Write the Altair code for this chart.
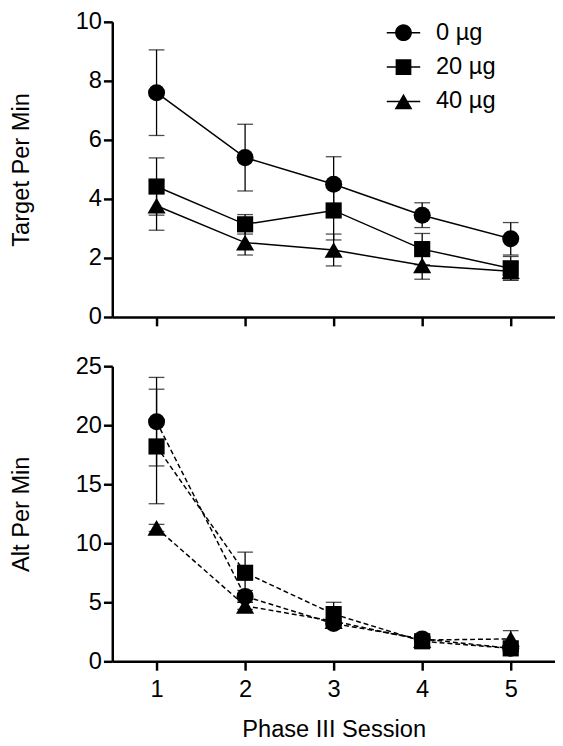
import altair as alt
import pandas as pd

sessions = [1, 2, 3, 4, 5]
doses = ["0 µg", "20 µg", "40 µg"]
shapes = ["circle", "square", "triangle-up"]
marker_sizes = [300, 270, 340]

# Target responses per minute (mean, SEM)
target_0 = [7.6, 5.4, 4.5, 3.45, 2.65]
target_0_sem = [1.45, 1.13, 0.93, 0.42, 0.55]
target_20 = [4.42, 3.14, 3.61, 2.3, 1.65]
target_20_sem = [0.97, 0.33, 1.0, 0.53, 0.4]
target_40 = [3.77, 2.52, 2.27, 1.75, 1.55]
target_40_sem = [0.83, 0.42, 0.54, 0.47, 0.3]

# Alternative responses per minute (mean, SEM)
alt_0 = [20.3, 5.5, 3.2, 1.9, 1.1]
alt_0_sem = [3.75, 0.5, 0.4, 0.2, 0.2]
alt_20 = [18.2, 7.5, 4.0, 1.7, 1.1]
alt_20_sem = [4.85, 1.75, 1.0, 0.2, 0.3]
alt_40 = [11.3, 4.7, 3.4, 1.8, 1.9]
alt_40_sem = [0.3, 0.3, 0.3, 0.2, 0.7]

target_ticks = [0, 2, 4, 6, 8, 10]
alt_ticks = [0, 5, 10, 15, 20, 25]

# legend glyphs: marker with a short line through it (all filled sub-paths)
BAR = "M-1,-0.045 L1,-0.045 L1,0.045 L-1,0.045 Z "
legend_paths = [
    BAR + "M0.5,0 A0.5,0.5 0 1,1 -0.5,0 A0.5,0.5 0 1,1 0.5,0 Z",
    BAR + "M-0.47,-0.47 L0.47,-0.47 L0.47,0.47 L-0.47,0.47 Z",
    BAR + "M0,-0.46 L0.53,0.46 L-0.53,0.46 Z",
]

FONT = "Liberation Sans"


def make_df(means, sems):
    rows = []
    for dose, m_list, s_list in zip(doses, means, sems):
        for s, m, e in zip(sessions, m_list, s_list):
            rows.append({"session": s, "dose": dose, "mean": m, "lo": m - e, "hi": m + e})
    return pd.DataFrame(rows)


df_target = make_df([target_0, target_20, target_40], [target_0_sem, target_20_sem, target_40_sem])
df_alt = make_df([alt_0, alt_20, alt_40], [alt_0_sem, alt_20_sem, alt_40_sem])


def panel(df, ymax, yticks, ytitle, dashed, bottom, legend):
    xaxis_kw = dict(values=sessions, format="d", labels=bottom)
    if bottom:
        xaxis_kw["title"] = "Phase III Session"
    else:
        xaxis_kw["title"] = None
    xscale = alt.Scale(domain=[0.5, 5.5], nice=False, zero=False)
    yscale = alt.Scale(domain=[0, ymax], nice=False)
    x = alt.X("session:Q", scale=xscale, axis=alt.Axis(**xaxis_kw))
    y = alt.Y("mean:Q", scale=yscale, axis=alt.Axis(values=yticks, title=ytitle))
    base = alt.Chart(df)

    line_kw = dict(color="black", strokeWidth=1.5)
    if dashed:
        line_kw["strokeDash"] = [5, 3]
    lines = base.mark_line(**line_kw).encode(x=x, y=y, detail="dose:N")
    err = base.mark_rule(color="black", strokeWidth=1.3).encode(
        x=x, y=alt.Y("lo:Q", scale=yscale), y2="hi:Q")
    cap_hi = base.mark_tick(orient="horizontal", size=16, thickness=1.3, color="black").encode(
        x=x, y=alt.Y("hi:Q", scale=yscale))
    cap_lo = base.mark_tick(orient="horizontal", size=16, thickness=1.3, color="black").encode(
        x=x, y=alt.Y("lo:Q", scale=yscale))
    layers = [lines, err, cap_hi, cap_lo]
    for dose, shp, sz in zip(doses, shapes, marker_sizes):
        pts = alt.Chart(df[df["dose"] == dose]).mark_point(
            shape=shp, filled=True, size=sz, color="black", opacity=1).encode(x=x, y=y)
        layers.append(pts)
    if legend:
        leg = base.mark_point(filled=True, color="black", opacity=0).encode(
            x=x, y=y,
            shape=alt.Shape("dose:N", scale=alt.Scale(domain=doses, range=legend_paths),
                            legend=alt.Legend(orient="none", legendX=278, legendY=-7, title=None,
                                              symbolSize=1156, symbolFillColor="black",
                                              symbolOpacity=1, labelFontSize=24, labelFont=FONT,
                                              labelColor="black", labelOffset=15, rowPadding=5,
                                              padding=0)))
        layers.append(leg)
    return alt.layer(*layers).properties(width=450, height=300)


top = panel(df_target, 10, target_ticks, "Target Per Min", False, False, True)
bottom = panel(df_alt, 25, alt_ticks, "Alt Per Min", True, True, False)

chart = alt.vconcat(top, bottom, spacing=26).properties(
    padding={"left": 2, "top": -4, "right": 0, "bottom": 0}
).configure_view(strokeWidth=0).configure_axis(
    grid=False,
    domainColor="black", domainWidth=2.5,
    tickColor="black", tickWidth=2.5, tickSize=9,
    labelColor="black", labelFont=FONT, labelFontSize=24, labelPadding=2,
    titleColor="black", titleFont=FONT, titleFontSize=24, titleFontWeight="normal",
    titlePadding=42,
).configure_axisBottom(labelPadding=8, titlePadding=16)

chart.save("out.html", embed_options={"renderer": "svg", "actions": False})
